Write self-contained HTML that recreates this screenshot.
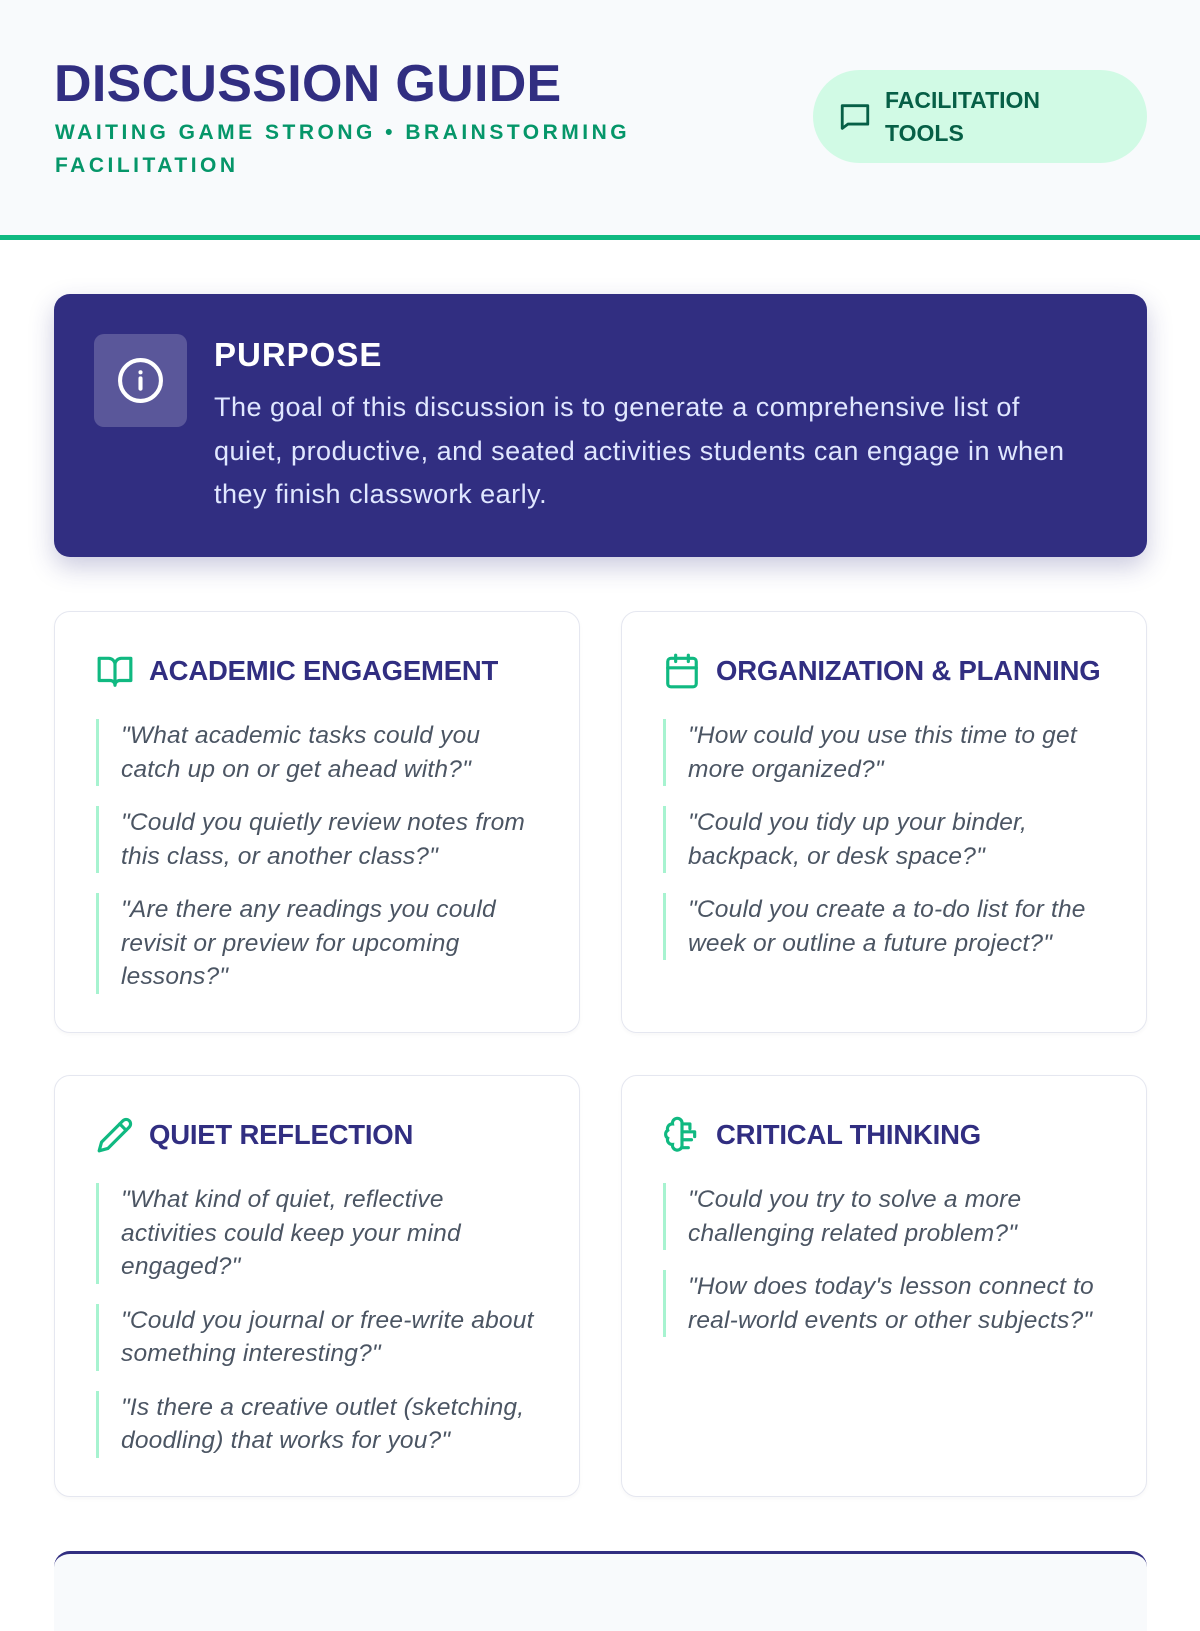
<!DOCTYPE html>
<html><head><meta charset="utf-8"><style>
*{box-sizing:border-box;margin:0;padding:0}
body{width:1200px;height:1600px;overflow:hidden;background:#fff;font-family:"Liberation Sans",sans-serif;position:relative}
.hdr{position:absolute;left:0;top:0;width:1200px;height:235px;background:#f8fafc}
.gl{position:absolute;left:0;top:235px;width:1200px;height:5px;background:#10b981}
h1{position:absolute;left:54px;top:56px;font-size:52px;font-weight:900;color:#312e81;letter-spacing:0.3px;line-height:56px}
.sub{position:absolute;left:55px;top:116px;font-size:21px;font-weight:700;color:#059669;letter-spacing:3.5px;line-height:33px;width:660px}
.pill{position:absolute;left:813px;top:70px;width:334px;height:93px;border-radius:47px;background:#d1fae5;color:#065f46;font-weight:700;font-size:23px;line-height:33px}
.pill svg{position:absolute;left:25px;top:30px}
.pill div{position:absolute;left:72px;top:14px}
.purp{position:absolute;left:54px;top:294px;width:1093px;height:263px;background:#312e81;border-radius:16px;box-shadow:0 10px 25px rgba(49,46,129,.25)}
.ib{position:absolute;left:40px;top:40px;width:93px;height:93px;border-radius:10px;background:rgba(255,255,255,.2)}
.ib svg{position:absolute;left:22px;top:22px}
.purp h2{position:absolute;left:160px;top:42px;color:#fff;font-size:33px;font-weight:700;letter-spacing:1px}
.purp p{position:absolute;left:160px;top:92px;color:#e0e7ff;font-size:27px;letter-spacing:0.5px;line-height:43.5px;width:930px;white-space:nowrap}
.card{position:absolute;width:526px;height:422px;border:1.5px solid #e5e7f0;border-radius:16px;background:#fff;box-shadow:0 2px 4px rgba(0,0,0,.03)}
.card h3{position:absolute;left:94px;top:44px;font-size:27.5px;font-weight:700;color:#312e81;letter-spacing:-0.2px;line-height:30px;white-space:nowrap}
.card .ic{position:absolute;left:41px;top:40px}
.qs{position:absolute;left:41px;top:107px;width:470px}
.q{border-left:3px solid #a7f3d0;padding-left:22px;font-style:italic;font-size:24.5px;letter-spacing:0.2px;line-height:33.5px;color:#4b5563;margin-bottom:20px;white-space:nowrap}
.bot{position:absolute;left:54px;top:1551px;width:1093px;height:80px;background:#f8fafc;border-top:3px solid #312e81;border-radius:16px 16px 0 0}
</style></head><body>
<div class="hdr"></div><div class="gl"></div>
<h1>DISCUSSION GUIDE</h1>
<div class="sub">WAITING GAME STRONG • BRAINSTORMING<br>FACILITATION</div>
<div class="pill"><svg width="34" height="34" viewBox="0 0 24 24" fill="none" stroke="#065f46" stroke-width="2" stroke-linejoin="round"><path d="M3 4h18v13H7l-4 3z"/></svg><div>FACILITATION<br>TOOLS</div></div>
<div class="purp"><div class="ib"><svg width="49" height="49" viewBox="0 0 24 24" fill="none" stroke="#fff" stroke-width="2" stroke-linecap="round"><circle cx="12" cy="12" r="10"/><path d="M12 16v-5M12 8h.01"/></svg></div>
<h2>PURPOSE</h2>
<p>The goal of this discussion is to generate a comprehensive list of<br>quiet, productive, and seated activities students can engage in when<br>they finish classwork early.</p></div>

<div class="card" style="left:54px;top:611px">
<svg class="ic" width="38" height="38" viewBox="0 0 24 24" fill="none" stroke="#10b981" stroke-width="2" stroke-linejoin="round"><path d="M2 4h6a4 4 0 0 1 4 4v13a3 3 0 0 0-3-3H2zM22 4h-6a4 4 0 0 0-4 4v13a3 3 0 0 1 3-3h7z"/></svg>
<h3>ACADEMIC ENGAGEMENT</h3>
<div class="qs"><div class="q">"What academic tasks could you<br>catch up on or get ahead with?"</div><div class="q">"Could you quietly review notes from<br>this class, or another class?"</div><div class="q">"Are there any readings you could<br>revisit or preview for upcoming<br>lessons?"</div></div></div>

<div class="card" style="left:621px;top:611px">
<svg class="ic" width="38" height="38" viewBox="0 0 24 24" fill="none" stroke="#10b981" stroke-width="2" stroke-linecap="round"><rect x="3" y="4" width="18" height="18" rx="2"/><path d="M16 2v4M8 2v4M3 10h18"/></svg>
<h3>ORGANIZATION &amp; PLANNING</h3>
<div class="qs"><div class="q">"How could you use this time to get<br>more organized?"</div><div class="q">"Could you tidy up your binder,<br>backpack, or desk space?"</div><div class="q">"Could you create a to-do list for the<br>week or outline a future project?"</div></div></div>

<div class="card" style="left:54px;top:1075px">
<svg class="ic" width="38" height="38" viewBox="0 0 24 24" fill="none" stroke="#10b981" stroke-width="2" stroke-linejoin="round" stroke-linecap="round"><path d="M17 3a2.8 2.8 0 0 1 4 4L7.5 20.5 2 22l1.5-5.5z"/><path d="M15 5l4 4"/></svg>
<h3>QUIET REFLECTION</h3>
<div class="qs"><div class="q">"What kind of quiet, reflective<br>activities could keep your mind<br>engaged?"</div><div class="q">"Could you journal or free-write about<br>something interesting?"</div><div class="q">"Is there a creative outlet (sketching,<br>doodling) that works for you?"</div></div></div>

<div class="card" style="left:621px;top:1075px">
<svg class="ic" width="38" height="38" viewBox="0 0 24 24" fill="none" stroke="#10b981" stroke-width="2" stroke-linecap="round"><path d="M12 4a3 3 0 0 0-6 1 3 3 0 0 0-3 4 3 3 0 0 0 0 5 3 3 0 0 0 3 4 3 3 0 0 0 6 1z"/><path d="M12 5h5M12 10h8M12 15h6M12 20h4M17 5v3M20 10v3"/></svg>
<h3>CRITICAL THINKING</h3>
<div class="qs"><div class="q">"Could you try to solve a more<br>challenging related problem?"</div><div class="q">"How does today's lesson connect to<br>real-world events or other subjects?"</div></div></div>

<div class="bot"></div>
</body></html>
